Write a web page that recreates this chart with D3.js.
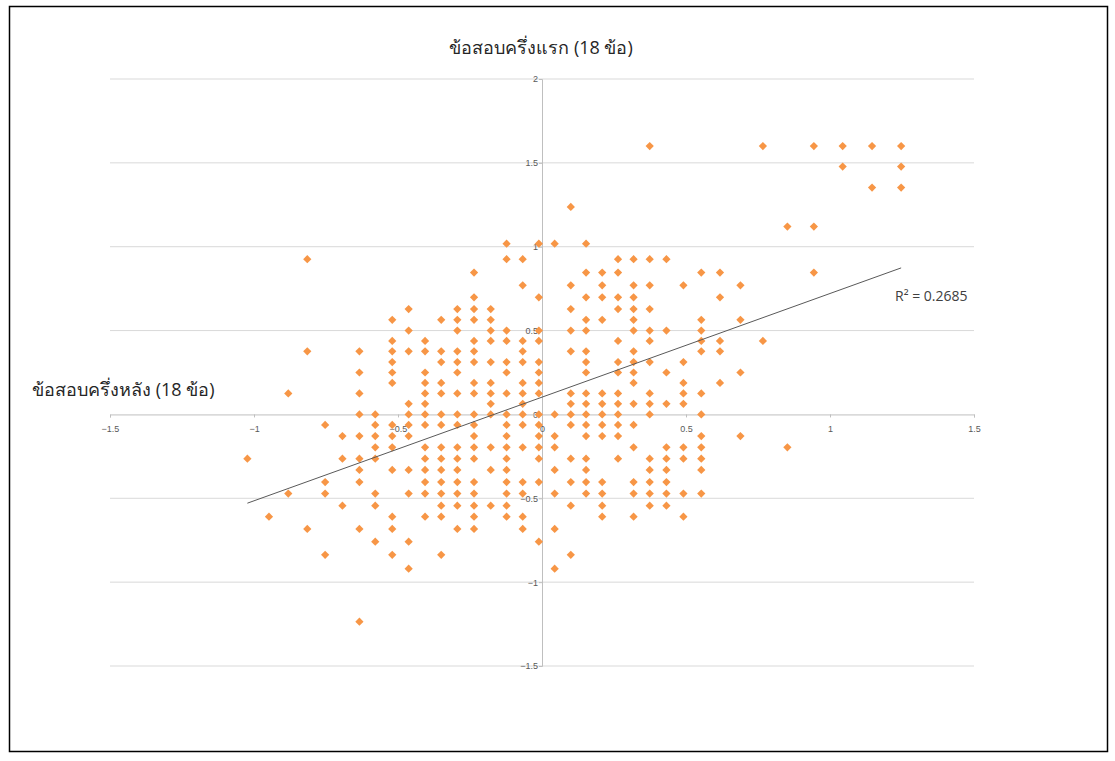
<!DOCTYPE html>
<html>
<head>
<meta charset="utf-8">
<script src="https://cdn.jsdelivr.net/npm/d3@7"></script>
<style>
  html, body { margin: 0; padding: 0; background: #ffffff; }
  svg { display: block; }
  text { font-family: "Open Sans", "Noto Sans", "DejaVu Sans", sans-serif; }
</style>
</head>
<body>
<svg id="chart" width="1115" height="761"></svg>
<script>
// ---- data ----
const titleText = "ข้อสอบครึ่งแรก (18 ข้อ)";
const xAxisTitle = "ข้อสอบครึ่งหลัง (18 ข้อ)";
const xTicks = [-1.5, -1, -0.5, 0, 0.5, 1, 1.5];
const yTicks = [-1.5, -1, -0.5, 0, 0.5, 1, 1.5, 2];
const r2Label = "R² = 0.2685";
const trendSlope = 0.618;
const trendIntercept = 0.103;

// second-half score (x) and first-half score (y), grouped row by row
const secondHalf = [
  0.374, 0.767, 0.944, 1.044, 1.146, 1.247,
  1.044, 1.247,
  1.146, 1.247,
  0.1,
  0.852, 0.944,
  -0.123, -0.011, 0.044, 0.153,
  -0.815, -0.123, -0.067, 0.264, 0.318, 0.374, 0.432,
  -0.236, 0.153, 0.209, 0.264, 0.553, 0.618, 0.944,
  -0.067, 0.1, 0.209, 0.318, 0.374, 0.491, 0.689,
  -0.236, -0.011, 0.153, 0.209, 0.264, 0.318, 0.618,
  -0.463, -0.294, -0.236, -0.178, 0.1, 0.264, 0.318, 0.374,
  -0.52, -0.35, -0.294, -0.236, -0.178, 0.153, 0.209, 0.318, 0.553, 0.689,
  -0.463, -0.294, -0.178, -0.123, -0.011, 0.1, 0.153, 0.318, 0.374, 0.432, 0.553,
  -0.52, -0.406, -0.236, -0.178, -0.123, -0.067, -0.011, 0.264, 0.374, 0.553, 0.618, 0.767,
  -0.815, -0.634, -0.52, -0.463, -0.406, -0.35, -0.294, -0.236, -0.067, 0.1, 0.153, 0.318, 0.553, 0.618,
  -0.52, -0.35, -0.294, -0.236, -0.178, -0.123, -0.067, -0.011, 0.153, 0.264, 0.318, 0.374, 0.491,
  -0.634, -0.52, -0.406, -0.294, -0.123, -0.011, 0.153, 0.264, 0.318, 0.432, 0.689,
  -0.52, -0.406, -0.35, -0.236, -0.178, -0.067, -0.011, 0.318, 0.491, 0.618,
  -0.881, -0.634, -0.406, -0.35, -0.294, -0.236, -0.178, -0.123, -0.067, -0.011, 0.1, 0.153, 0.209, 0.264, 0.374, 0.491, 0.553,
  -0.463, -0.406, -0.178, -0.067, 0.1, 0.153, 0.209, 0.264, 0.318, 0.374, 0.432, 0.491,
  -0.634, -0.579, -0.463, -0.406, -0.35, -0.294, -0.236, -0.178, -0.123, -0.067, -0.011, 0.044, 0.1, 0.153, 0.209, 0.264, 0.374, 0.553,
  -0.753, -0.579, -0.52, -0.463, -0.406, -0.35, -0.294, -0.236, -0.123, -0.067, -0.011, 0.1, 0.153, 0.209, 0.264, 0.318,
  -0.693, -0.634, -0.579, -0.52, -0.463, -0.236, -0.123, -0.011, 0.044, 0.153, 0.209, 0.264, 0.553, 0.689,
  -0.579, -0.52, -0.406, -0.35, -0.294, -0.236, -0.178, -0.123, -0.067, -0.011, 0.044, 0.318, 0.432, 0.491, 0.553, 0.852,
  -1.023, -0.693, -0.634, -0.579, -0.406, -0.35, -0.294, -0.236, -0.123, -0.011, 0.1, 0.153, 0.264, 0.374, 0.432, 0.491, 0.553,
  -0.634, -0.52, -0.463, -0.406, -0.35, -0.294, -0.178, -0.123, 0.044, 0.153, 0.374, 0.432, 0.553,
  -0.753, -0.634, -0.406, -0.35, -0.294, -0.236, -0.123, -0.067, -0.011, 0.1, 0.153, 0.209, 0.318, 0.374, 0.432,
  -0.881, -0.753, -0.579, -0.463, -0.406, -0.35, -0.294, -0.236, -0.123, -0.067, 0.044, 0.153, 0.209, 0.318, 0.374, 0.432, 0.491, 0.553,
  -0.693, -0.579, -0.35, -0.294, -0.236, -0.178, -0.123, 0.1, 0.209, 0.374, 0.432,
  -0.948, -0.52, -0.406, -0.35, -0.236, -0.123, -0.067, 0.209, 0.318, 0.491,
  -0.815, -0.634, -0.52, -0.294, -0.236, -0.067, 0.044,
  -0.579, -0.463, -0.011,
  -0.753, -0.52, -0.35, 0.1,
  -0.463, 0.044,
  -0.634
];
const firstHalf = [
  1.6, 1.6, 1.6, 1.6, 1.6, 1.6,
  1.478, 1.478,
  1.353, 1.353,
  1.237,
  1.12, 1.12,
  1.018, 1.018, 1.018, 1.018,
  0.926, 0.926, 0.926, 0.926, 0.926, 0.926, 0.926,
  0.846, 0.846, 0.846, 0.846, 0.846, 0.846, 0.846,
  0.77, 0.77, 0.77, 0.77, 0.77, 0.77, 0.77,
  0.698, 0.698, 0.698, 0.698, 0.698, 0.698, 0.698,
  0.628, 0.628, 0.628, 0.628, 0.628, 0.628, 0.628, 0.628,
  0.564, 0.564, 0.564, 0.564, 0.564, 0.564, 0.564, 0.564, 0.564, 0.564,
  0.5, 0.5, 0.5, 0.5, 0.5, 0.5, 0.5, 0.5, 0.5, 0.5, 0.5,
  0.438, 0.438, 0.438, 0.438, 0.438, 0.438, 0.438, 0.438, 0.438, 0.438, 0.438, 0.438,
  0.376, 0.376, 0.376, 0.376, 0.376, 0.376, 0.376, 0.376, 0.376, 0.376, 0.376, 0.376, 0.376, 0.376,
  0.312, 0.312, 0.312, 0.312, 0.312, 0.312, 0.312, 0.312, 0.312, 0.312, 0.312, 0.312, 0.312,
  0.25, 0.25, 0.25, 0.25, 0.25, 0.25, 0.25, 0.25, 0.25, 0.25, 0.25,
  0.188, 0.188, 0.188, 0.188, 0.188, 0.188, 0.188, 0.188, 0.188, 0.188,
  0.125, 0.125, 0.125, 0.125, 0.125, 0.125, 0.125, 0.125, 0.125, 0.125, 0.125, 0.125, 0.125, 0.125, 0.125, 0.125, 0.125,
  0.063, 0.063, 0.063, 0.063, 0.063, 0.063, 0.063, 0.063, 0.063, 0.063, 0.063, 0.063,
  0, 0, 0, 0, 0, 0, 0, 0, 0, 0, 0, 0, 0, 0, 0, 0, 0, 0,
  -0.063, -0.063, -0.063, -0.063, -0.063, -0.063, -0.063, -0.063, -0.063, -0.063, -0.063, -0.063, -0.063, -0.063, -0.063, -0.063,
  -0.129, -0.129, -0.129, -0.129, -0.129, -0.129, -0.129, -0.129, -0.129, -0.129, -0.129, -0.129, -0.129, -0.129,
  -0.196, -0.196, -0.196, -0.196, -0.196, -0.196, -0.196, -0.196, -0.196, -0.196, -0.196, -0.196, -0.196, -0.196, -0.196, -0.196,
  -0.264, -0.264, -0.264, -0.264, -0.264, -0.264, -0.264, -0.264, -0.264, -0.264, -0.264, -0.264, -0.264, -0.264, -0.264, -0.264, -0.264,
  -0.331, -0.331, -0.331, -0.331, -0.331, -0.331, -0.331, -0.331, -0.331, -0.331, -0.331, -0.331, -0.331,
  -0.403, -0.403, -0.403, -0.403, -0.403, -0.403, -0.403, -0.403, -0.403, -0.403, -0.403, -0.403, -0.403, -0.403, -0.403,
  -0.472, -0.472, -0.472, -0.472, -0.472, -0.472, -0.472, -0.472, -0.472, -0.472, -0.472, -0.472, -0.472, -0.472, -0.472, -0.472, -0.472, -0.472,
  -0.544, -0.544, -0.544, -0.544, -0.544, -0.544, -0.544, -0.544, -0.544, -0.544, -0.544,
  -0.61, -0.61, -0.61, -0.61, -0.61, -0.61, -0.61, -0.61, -0.61, -0.61,
  -0.683, -0.683, -0.683, -0.683, -0.683, -0.683, -0.683,
  -0.759, -0.759, -0.759,
  -0.837, -0.837, -0.837, -0.837,
  -0.92, -0.92,
  -1.236
];

// ---- drawing ----
const W = 1115, H = 761;
const svg = d3.select("#chart");
svg.append("rect").attr("width", W).attr("height", H).attr("fill", "#ffffff");

// outer frame
svg.append("rect")
  .attr("x", 9.5).attr("y", 6.5).attr("width", 1098).attr("height", 745)
  .attr("fill", "none").attr("stroke", "#000000").attr("stroke-width", 1.5);

const x = d3.scaleLinear().domain([-1.5, 1.5]).range([110, 974]);
const y = d3.scaleLinear().domain([-1.5, 2]).range([666, 79]);

// horizontal gridlines
svg.append("g").selectAll("line").data(yTicks.filter(t => t !== 0)).join("line")
  .attr("x1", x(-1.5)).attr("x2", x(1.5))
  .attr("y1", d => y(d)).attr("y2", d => y(d))
  .attr("stroke", "#d9d9d9").attr("stroke-width", 1);

// y axis (vertical line through x=0)
const yAxis = d3.axisLeft(y).tickValues(yTicks).tickSize(3).tickFormat(d3.format("~g"));
const gy = svg.append("g").attr("transform", `translate(${x(0)},0)`).call(yAxis);
gy.select(".domain").attr("stroke", "#bfbfbf");
gy.selectAll(".tick line").attr("stroke", "#bfbfbf");
gy.selectAll(".tick text").attr("fill", "#595959").style("font-size", "9px")
  .attr("x", -4).style("font-family", "'Liberation Sans', Arial, sans-serif");

// x axis (horizontal line through y=0)
const xAxis = d3.axisBottom(x).tickValues(xTicks).tickSize(3).tickFormat(d3.format("~g"));
const gx = svg.append("g").attr("transform", `translate(0,${y(0)})`).call(xAxis);
gx.select(".domain").attr("stroke", "#bfbfbf");
gx.selectAll(".tick line").attr("stroke", "#bfbfbf");
gx.selectAll(".tick text").attr("fill", "#595959").style("font-size", "9px")
  .attr("y", 11).style("font-family", "'Liberation Sans', Arial, sans-serif");

// points
const pts = secondHalf.map((v, i) => ({ x: v, y: firstHalf[i] }));
const diamond = d3.symbol().type(d3.symbolSquare).size(34);
svg.append("g").selectAll("path").data(pts).join("path")
  .attr("d", diamond)
  .attr("transform", d => `translate(${x(d.x)},${y(d.y)}) rotate(45)`)
  .attr("fill", "#f79646");

// trend line
const xMin = d3.min(secondHalf), xMax = d3.max(secondHalf);
svg.append("line")
  .attr("x1", x(xMin)).attr("y1", y(trendIntercept + trendSlope * xMin))
  .attr("x2", x(xMax)).attr("y2", y(trendIntercept + trendSlope * xMax))
  .attr("stroke", "#595959").attr("stroke-width", 1);

svg.append("text").attr("x", 895).attr("y", 301)
  .attr("fill", "#404040").style("font-size", "14px").text(r2Label);

// titles
svg.append("text").attr("x", 541).attr("y", 54).attr("text-anchor", "middle")
  .attr("fill", "#262626").style("font-size", "18px").text(titleText);
svg.append("text").attr("x", 32).attr("y", 396)
  .attr("fill", "#262626").style("font-size", "18px").text(xAxisTitle);
</script>
</body>
</html>
